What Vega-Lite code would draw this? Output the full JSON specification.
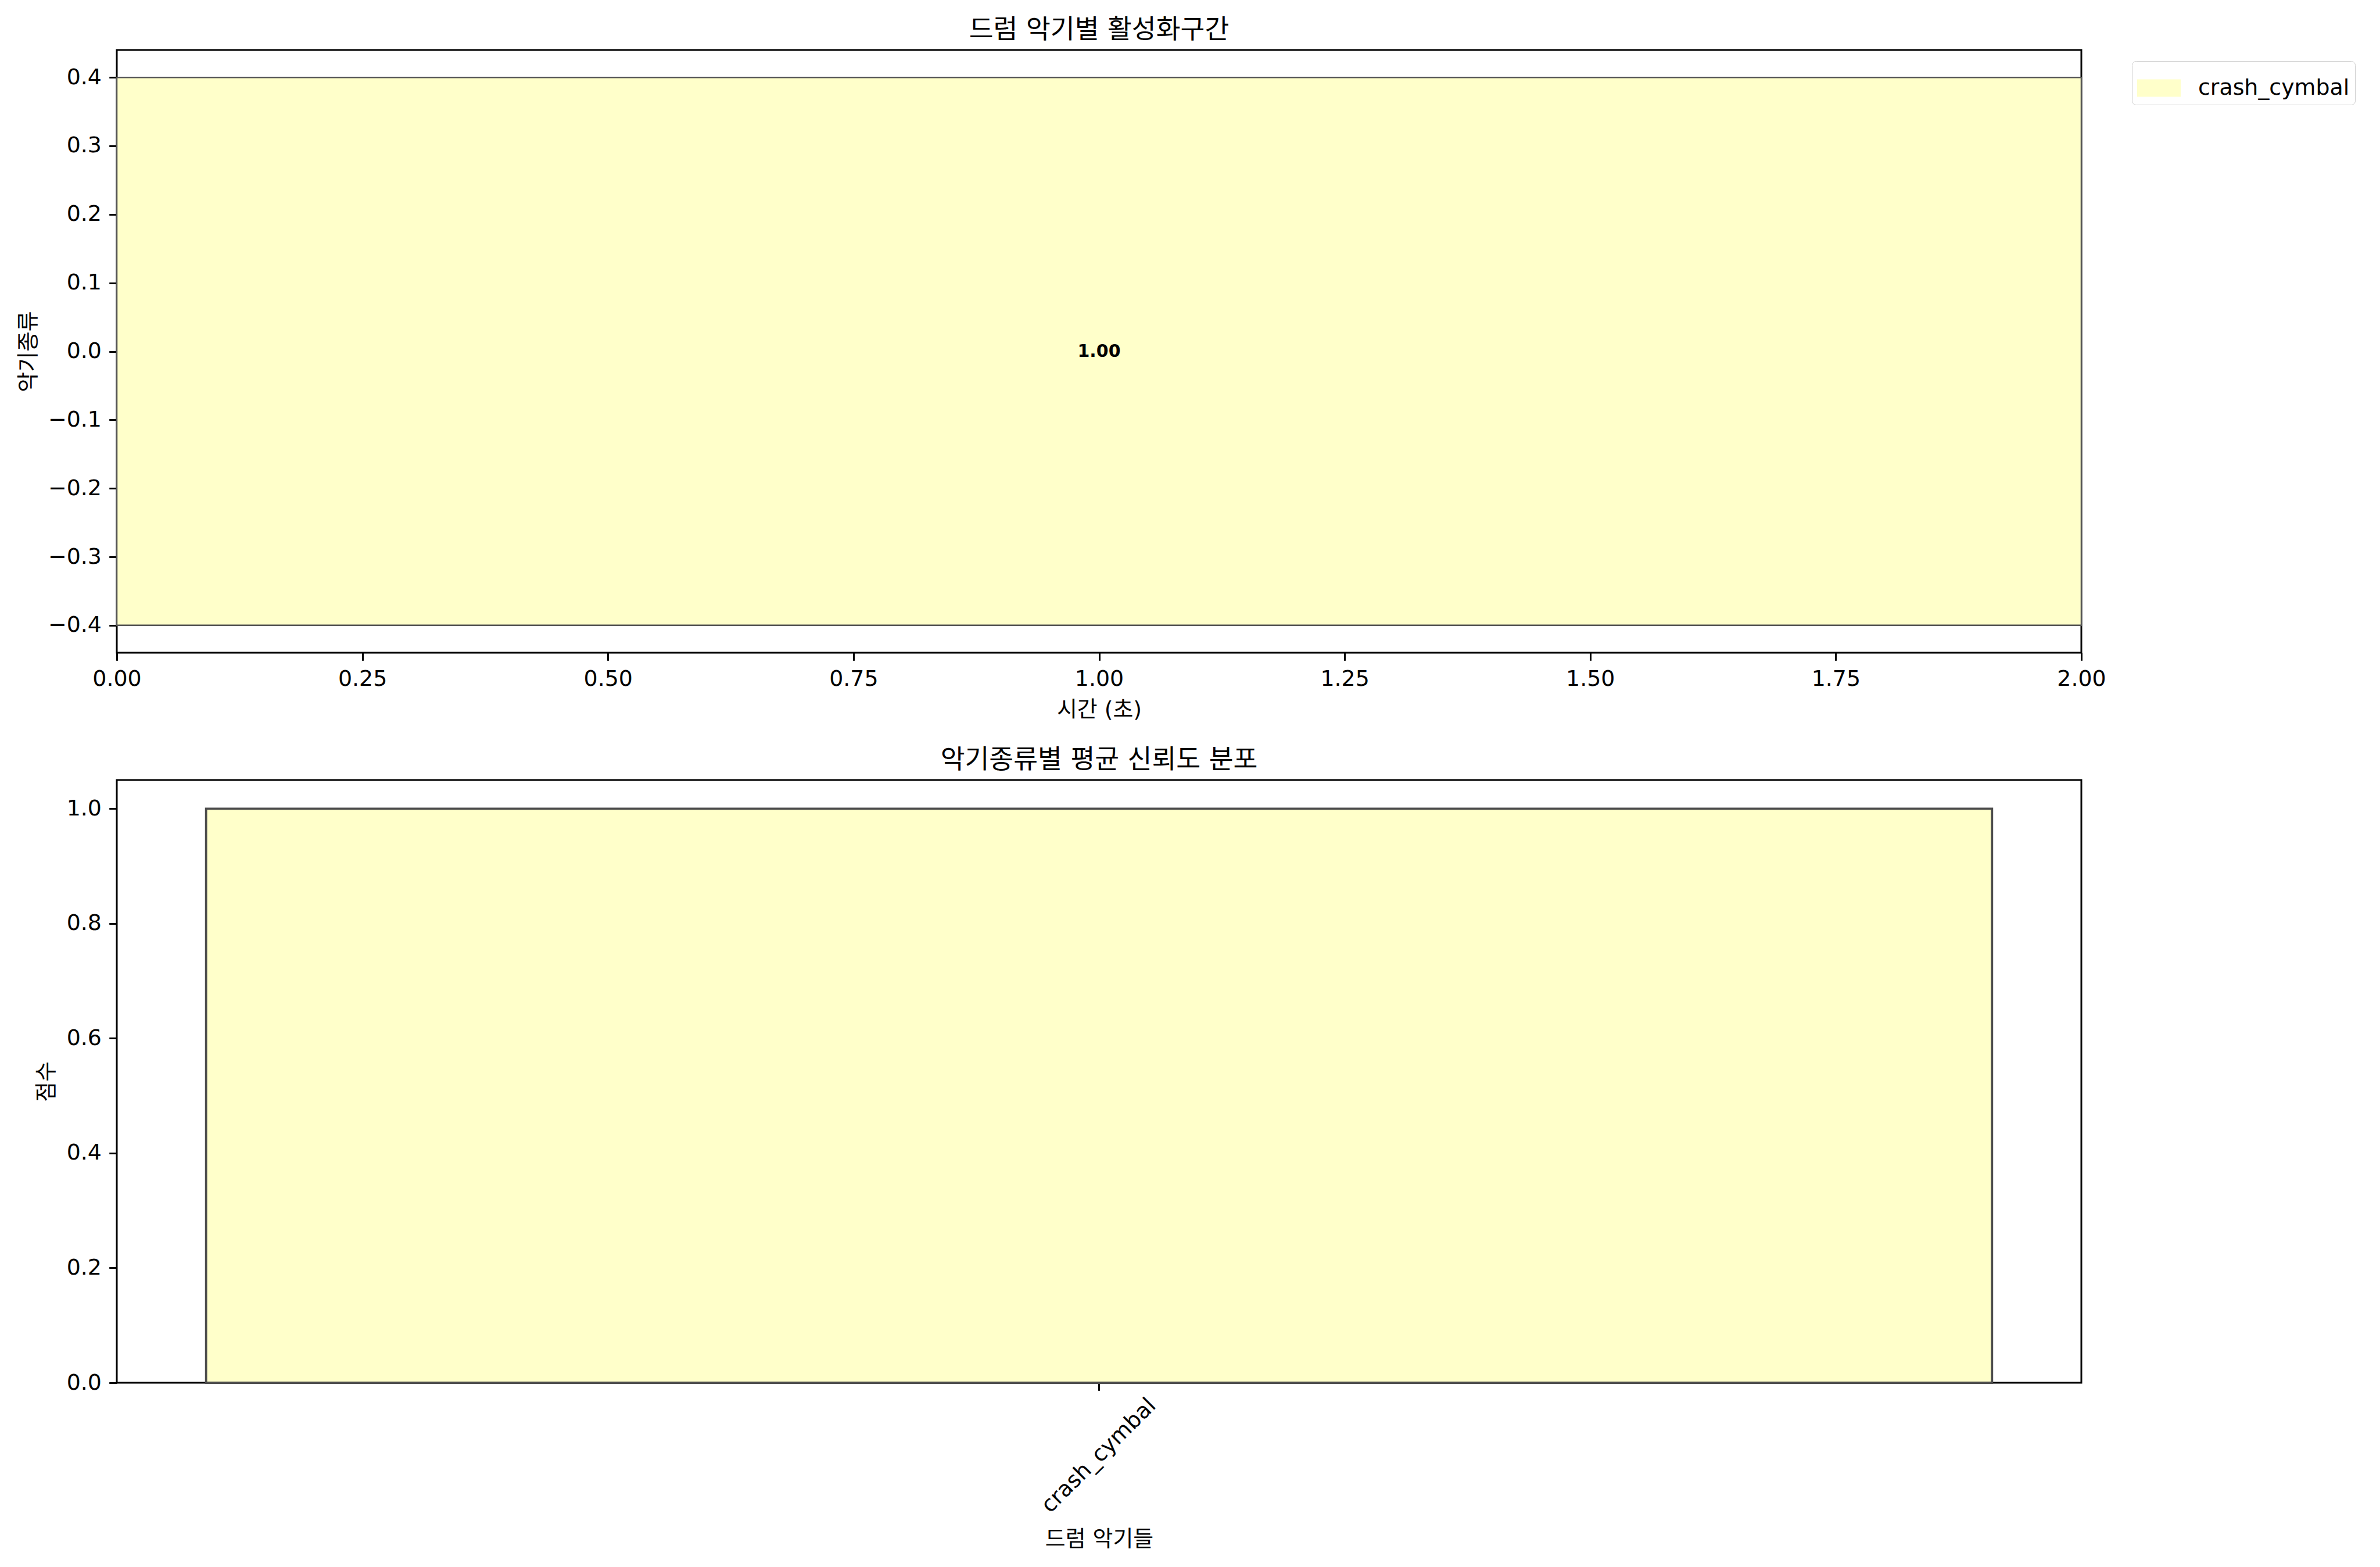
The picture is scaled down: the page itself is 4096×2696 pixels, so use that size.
{
  "$schema": "https://vega.github.io/schema/vega-lite/v6.json",
  "background": "white",
  "padding": {"left": 28, "top": 28, "right": 5, "bottom": 5},
  "config": {
    "font": "DejaVu Sans, Noto Sans CJK KR",
    "view": {"stroke": "black", "strokeWidth": 3, "fill": null},
    "axis": {
      "domain": false,
      "grid": false,
      "tickColor": "black",
      "tickWidth": 3,
      "tickSize": 13.3,
      "labelFontSize": 37.9,
      "labelColor": "black",
      "labelPadding": 13.3,
      "labelFlush": false,
      "labelOverlap": false,
      "labelLimit": 0,
      "titleFontSize": 37.9,
      "titleFontWeight": "normal",
      "titleColor": "black",
      "titlePadding": 15,
      "labelFont": "DejaVu Sans",
      "titleFont": "DejaVu Sans, Noto Sans CJK KR"
    },
    "title": {"fontSize": 45.5, "fontWeight": "normal", "color": "black", "font": "DejaVu Sans, Noto Sans CJK KR"}
  },
  "datasets": {
    "hits": [
      {"instrument": "crash_cymbal", "start": 0.0, "end": 2.0, "confidence": 1.0}
    ]
  },
  "vconcat": [
    {
      "width": 3381,
      "height": 1037,
      "data": {"name": "hits"},
      "title": {"text": "드럼 악기별 활성화구간", "baseline": "bottom", "offset": 12, "dy": 47},
      "layer": [
        {
          "mark": {"type": "rect", "stroke": "#555555", "strokeWidth": 2.5},
          "encoding": {
            "x": {"field": "start", "type": "quantitative",
                  "scale": {"domain": [0, 2], "nice": false, "zero": false},
                  "axis": {"title": "시간 (초)", "values": [0, 0.25, 0.5, 0.75, 1.0, 1.25, 1.5, 1.75, 2.0], "format": ".2f"}},
            "x2": {"field": "end"},
            "y": {"datum": -0.4, "type": "quantitative",
                  "scale": {"domain": [-0.44, 0.44], "nice": false, "zero": false},
                  "axis": {"title": "악기종류", "values": [-0.4, -0.3, -0.2, -0.1, 0, 0.1, 0.2, 0.3, 0.4], "format": ".1f", "titlePadding": 14}},
            "y2": {"datum": 0.4},
            "color": {"field": "instrument", "type": "nominal",
                      "scale": {"domain": ["crash_cymbal"], "range": ["#ffffca"]},
                      "legend": {
                        "title": null, "orient": "none", "legendX": 3468, "legendY": 19,
                        "strokeColor": "#cccccc", "cornerRadius": 7, "padding": 9, "fillColor": "white",
                        "symbolType": "M-1,-0.4H1V0.4H-1Z", "symbolSize": 5625, "symbolStrokeWidth": 0, "symbolOpacity": 1,
                        "labelFontSize": 37.9, "labelColor": "black", "labelOffset": 30, "labelLimit": 0, "labelFont": "DejaVu Sans"
                      }}
          }
        },
        {
          "transform": [{"calculate": "(datum.start + datum.end) / 2", "as": "mid"}],
          "mark": {"type": "text", "fontWeight": "bold", "fontSize": 30, "color": "black", "font": "DejaVu Sans"},
          "encoding": {
            "x": {"field": "mid", "type": "quantitative"},
            "y": {"datum": 0, "type": "quantitative"},
            "text": {"field": "confidence", "type": "quantitative", "format": ".2f"}
          }
        }
      ]
    },
    {
      "width": 3381,
      "height": 1037,
      "data": {"name": "hits"},
      "title": {"text": "악기종류별 평균 신뢰도 분포", "baseline": "bottom", "offset": 12, "dy": 47},
      "mark": {"type": "bar", "stroke": "#4d4d4d", "strokeWidth": 3.8},
      "encoding": {
        "x": {"field": "instrument", "type": "nominal",
              "scale": {"paddingInner": 0, "paddingOuter": 0.05},
              "axis": {"title": "드럼 악기들", "labelAngle": -45, "labelAlign": "center", "labelBaseline": "middle", "labelPadding": 112, "titlePadding": 50}},
        "y": {"field": "confidence", "type": "quantitative",
              "scale": {"domain": [0, 1.05], "nice": false},
              "axis": {"title": "점수", "values": [0, 0.2, 0.4, 0.6, 0.8, 1.0], "format": ".1f"}},
        "color": {"field": "instrument", "type": "nominal",
                  "scale": {"domain": ["crash_cymbal"], "range": ["#ffffca"]},
                  "legend": null}
      }
    }
  ],
  "spacing": 219,
  "bounds": "flush",
  "resolve": {"legend": {"color": "independent"}, "scale": {"color": "independent"}}
}
